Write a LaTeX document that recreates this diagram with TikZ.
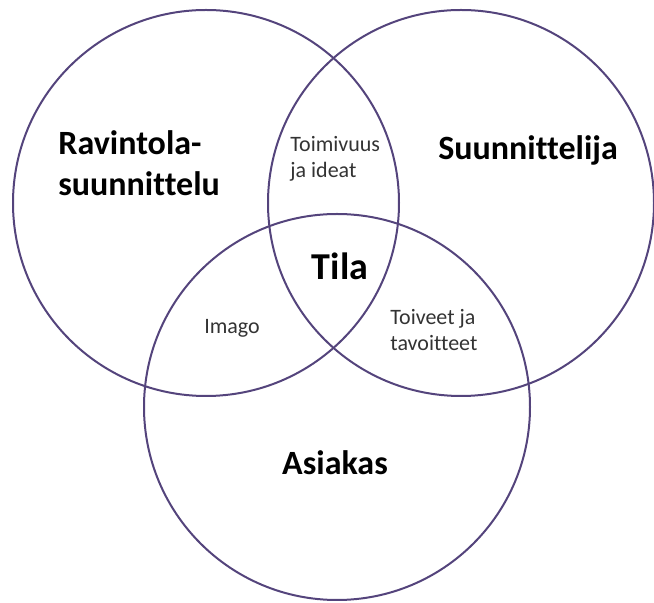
\documentclass[tikz,border=0pt]{standalone}
\usepackage{fontspec}
\setmainfont{Carlito}[Ligatures=CommonOff]
\usepackage{xcolor}
\usepackage{tikz}
\definecolor{vennline}{RGB}{84,68,124}

\begin{document}
\begin{tikzpicture}[
        x=0.5pt, y=-0.5pt,
        venn/.style = {circle, draw=vennline, line width=1pt, minimum size=193pt, inner sep=0pt},
        big/.style = {font=\fontsize{17}{20.5}\selectfont\bfseries, inner sep=0pt, align=left},
        small/.style = {font=\fontsize{11}{13}\selectfont, text=black!80, inner sep=0pt, align=left}
    ]
        \useasboundingbox (0,0) rectangle (654,603);
        \node[venn] (ravintola) at (206,203) {};
        \node[venn] (suunnittelija) at (461,203) {};
        \node[venn] (asiakas) at (337,407) {};
        \node[big, anchor=west] (ravintolatxt) at (58,163) {Ravintola-\\suunnittelu};
        \node[big] (suunnittelijatxt) at (528,150) {Suunnittelija};
        \node[big] (asiakastxt) at (335,463) {Asiakas};
        \node[big, font=\fontsize{19}{22}\selectfont\bfseries] (tila) at (340,266) {Tila};
        \node[small, anchor=west] (toimivuus) at (290,159) {Toimivuus\\ja ideat};
        \node[small] (imago) at (232,328) {Imago};
        \node[small, anchor=west] (toiveet) at (390,330) {Toiveet ja\\tavoitteet};
    \end{tikzpicture}
\end{document}
